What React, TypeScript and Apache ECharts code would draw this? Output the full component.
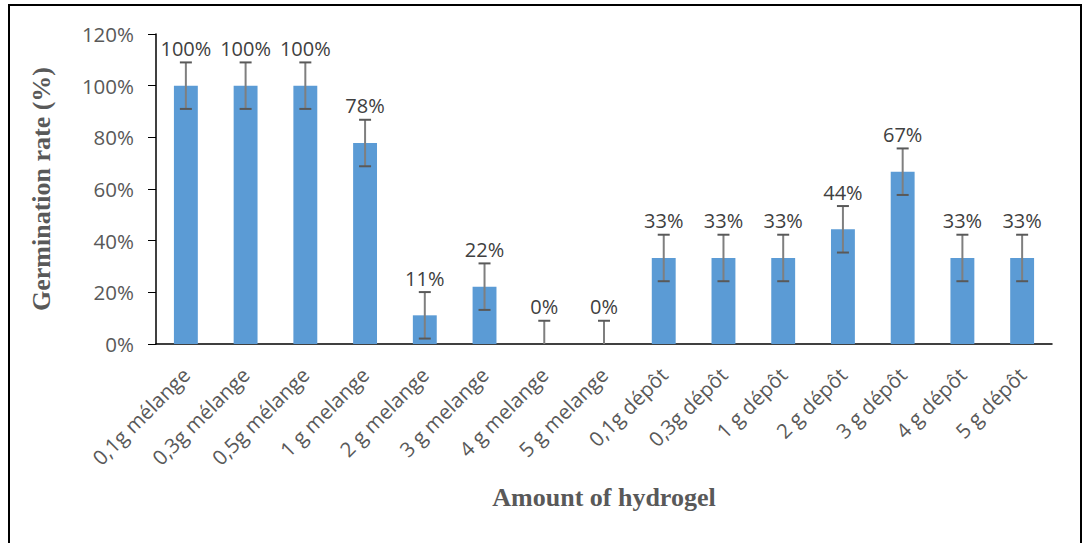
import React, { useEffect, useRef } from "react";
import * as echarts from "echarts";

const categories = [
  "0,1g mélange", "0,3g mélange", "0,5g mélange", "1 g melange", "2 g melange",
  "3 g melange", "4 g melange", "5 g melange", "0,1g dépôt", "0,3g dépôt",
  "1 g dépôt", "2 g dépôt", "3 g dépôt", "4 g dépôt", "5 g dépôt",
];
const germination = [100, 100, 100, 77.8, 11.1, 22.2, 0, 0, 33.3, 33.3, 33.3, 44.4, 66.7, 33.3, 33.3];
const errors = [9, 9, 9, 9, 9, 9, 9, 9, 9, 9, 9, 9, 9, 9, 9];
const yTicks = { min: 0, max: 120, interval: 20 };

export default function App() {
  const ref = useRef<HTMLDivElement>(null);
  useEffect(() => {
    document.body.style.margin = "0";
    const chart = echarts.init(ref.current!, undefined, { renderer: "svg" });
    const errData = germination.map((v, i) => [i, v, errors[i]]);
    chart.setOption({
      animation: false,
      backgroundColor: "#ffffff",
      graphic: [
        {
          type: "rect",
          shape: { x: 9, y: 5, width: 1072, height: 600 },
          style: { fill: "none", stroke: "#000", lineWidth: 2 },
          silent: true,
        },
      ],
      grid: { left: 156, right: 31, top: 34, bottom: 199 },
      xAxis: {
        type: "category",
        data: categories,
        name: "Amount of hydrogel",
        nameLocation: "middle",
        nameGap: 140,
        nameTextStyle: {
          fontFamily: "Liberation Serif",
          fontWeight: "bold",
          fontSize: 26,
          color: "#595959",
        },
        axisLine: { lineStyle: { color: "#000", width: 1.5 } },
        axisTick: { show: false },
        axisLabel: {
          rotate: 45,
          fontFamily: "Open Sans",
          fontSize: 20.5,
          color: "#595959",
          margin: 27,
          interval: 0,
        },
      },
      yAxis: {
        type: "value",
        min: yTicks.min,
        max: yTicks.max,
        interval: yTicks.interval,
        name: "Germination rate (%)",
        nameLocation: "middle",
        nameGap: 102,
        nameTextStyle: {
          fontFamily: "Liberation Serif",
          fontWeight: "bold",
          fontSize: 26,
          color: "#595959",
        },
        axisLine: { show: true, lineStyle: { color: "#000", width: 1.5 } },
        axisTick: { show: true, length: 8, lineStyle: { color: "#000" } },
        splitLine: { show: false },
        axisLabel: {
          formatter: "{value}%",
          fontFamily: "Open Sans",
          fontSize: 20.5,
          color: "#595959",
          margin: 22,
        },
      },
      series: [
        {
          type: "bar",
          data: germination,
          barWidth: "40%",
          itemStyle: { color: "#5B9BD5" },
        },
        {
          type: "custom",
          data: errData,
          z: 10,
          renderItem: (params: any, api: any) => {
            const i = api.value(0);
            const v = api.value(1);
            const e = api.value(2);
            const top = api.coord([i, v + e]);
            const lowV = Math.max(0, v - e);
            const bot = api.coord([i, lowV]);
            const w = 6;
            const lineStyle = { stroke: "#595959", lineWidth: 2 };
            const children: any[] = [
              { type: "line", shape: { x1: top[0], y1: top[1], x2: bot[0], y2: bot[1] }, style: { stroke: "#7f7f7f", lineWidth: 2 } },
              { type: "line", shape: { x1: top[0] - w, y1: top[1], x2: top[0] + w, y2: top[1] }, style: lineStyle },
            ];
            if (lowV > 0) {
              children.push({ type: "line", shape: { x1: bot[0] - w, y1: bot[1], x2: bot[0] + w, y2: bot[1] }, style: lineStyle });
            }
            children.push({
              type: "text",
              x: top[0],
              y: top[1] - 4,
              style: {
                text: Math.round(v) + "%",
                align: "center",
                verticalAlign: "bottom",
                fontFamily: "Open Sans",
                fontSize: 20,
                fill: "#404040",
              },
            });
            return { type: "group", children };
          },
        },
      ],
    });
    return () => chart.dispose();
  }, []);
  return <div ref={ref} style={{ width: 1083, height: 543 }} />;
}
